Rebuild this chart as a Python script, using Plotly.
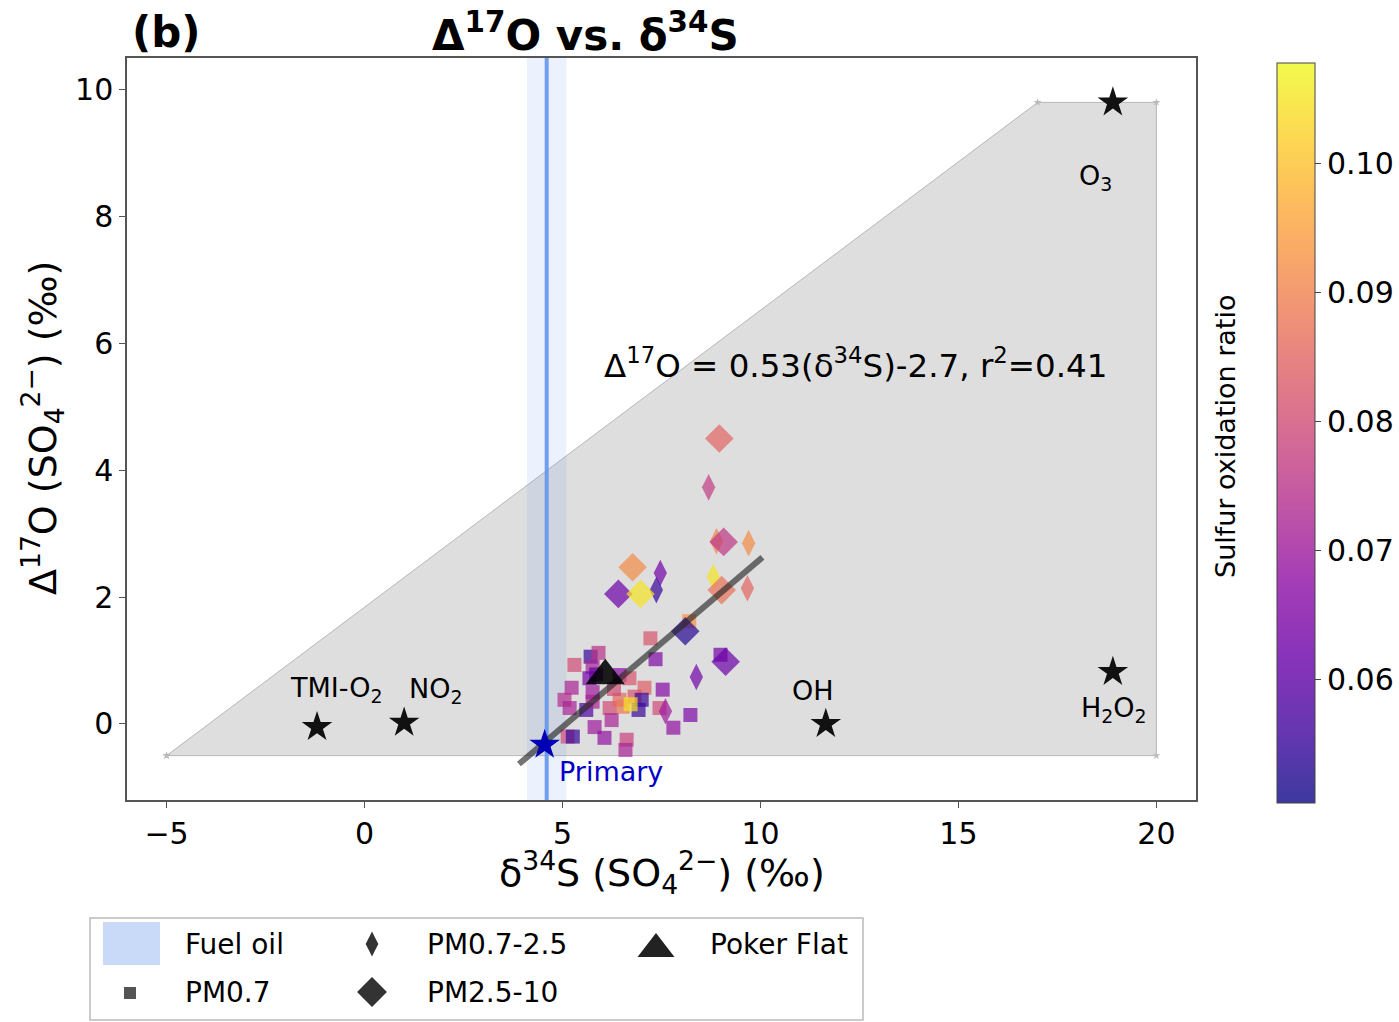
import plotly.graph_objects as go

W, H = 1399, 1022

# ---------------- data ----------------
pm07_d34s = [7.22, 7.35, 5.71, 5.91, 5.30, 5.76, 5.68, 6.44, 6.69, 7.07, 7.53, 5.23, 5.05, 5.18,
             5.76, 5.60, 5.76, 6.19, 6.44, 6.52, 6.82, 7.00, 6.92, 7.45, 8.23, 7.80, 5.81, 6.06,
             6.62, 6.59, 5.13, 5.26, 6.24, 8.99, 6.72, 5.85, 6.30, 8.20]
pm07_d17o = [1.35, 1.02, 1.06, 1.12, 0.93, 0.90, 0.72, 0.77, 0.72, 0.57, 0.54, 0.57, 0.38, 0.25,
             0.50, 0.22, 0.35, 0.25, 0.38, 0.27, 0.43, 0.38, 0.22, 0.25, 0.14, -0.06, -0.05, -0.22,
             -0.25, -0.41, -0.20, -0.20, 0.06, 1.09, 0.31, 0.78, 0.55, 1.62]
pm07_sor = [0.082, 0.065, 0.055, 0.075, 0.080, 0.072, 0.063, 0.066, 0.082, 0.084, 0.066, 0.072,
            0.074, 0.072, 0.070, 0.058, 0.072, 0.080, 0.086, 0.088, 0.082, 0.055, 0.055, 0.080,
            0.065, 0.068, 0.070, 0.068, 0.078, 0.072, 0.080, 0.055, 0.072, 0.063, 0.105, 0.060,
            0.080, 0.093]

pm0725_d34s = [8.69, 8.89, 9.70, 7.47, 7.37, 8.81, 9.67, 8.38, 7.60]
pm0725_d17o = [3.73, 2.88, 2.85, 2.38, 2.11, 2.32, 2.14, 0.74, 0.20]
pm0725_sor = [0.077, 0.090, 0.092, 0.063, 0.055, 0.105, 0.085, 0.063, 0.070]

pm2510_d34s = [8.96, 9.07, 6.77, 6.41, 6.97, 9.02, 8.10, 9.12]
pm2510_d17o = [4.50, 2.87, 2.47, 2.05, 2.05, 2.11, 1.46, 0.98]
pm2510_sor = [0.085, 0.076, 0.092, 0.062, 0.105, 0.087, 0.053, 0.062]

poker_d34s = [6.08]
poker_d17o = [0.76]

source_names = ["TMI-O<sub>2</sub>", "NO<sub>2</sub>", "OH", "O<sub>3</sub>", "H<sub>2</sub>O<sub>2</sub>"]
source_d34s = [-1.2, 1.0, 11.65, 18.9, 18.9]
source_d17o = [-0.05, 0.02, 0.0, 9.8, 0.82]

primary_d34s = [4.55]
primary_d17o = [-0.33]

mixing_d34s = [-5, 17, 20, 20, -5]
mixing_d17o = [-0.5, 9.8, 9.8, -0.5, -0.5]

fuel_oil_range = [4.1, 5.1]
fuel_oil_mean = 4.6

fit_slope, fit_intercept = 0.53, -2.7
fit_x = [3.9, 10.05]
fit_y = [fit_slope * v + fit_intercept for v in fit_x]

sor_min, sor_max = 0.0504, 0.1078
sor_ticks = [0.06, 0.07, 0.08, 0.09, 0.10]

x_range = [-6, 21]
y_range = [-1.2, 10.5]

# matplotlib plasma stops
plasma_hex = ["#0d0887", "#41049d", "#6a00a8", "#8f0da4", "#b12a90", "#cc4778",
              "#e16462", "#f2844b", "#fca636", "#fcce25", "#f0f921"]


def blend(hexc, a):
    r, g, b = int(hexc[1:3], 16), int(hexc[3:5], 16), int(hexc[5:7], 16)
    return "rgb(%d,%d,%d)" % tuple(round(a * c + (1 - a) * 255) for c in (r, g, b))


n = len(plasma_hex) - 1
plasma_scale = [[i / n, c] for i, c in enumerate(plasma_hex)]
plasma_bar_scale = [[i / n, blend(c, 0.8)] for i, c in enumerate(plasma_hex)]

# ---------------- figure ----------------
FONT = "DejaVu Sans"
fig = go.Figure()

# mixing polygon
fig.add_trace(go.Scatter(
    x=mixing_d34s, y=mixing_d17o, mode="lines+markers", fill="toself",
    fillcolor="#dedede", line=dict(color="rgba(170,170,170,0.8)", width=1),
    marker=dict(symbol="star", size=6, color="#bbbbbb"),
    hoverinfo="skip", showlegend=False))

# fuel oil band
fig.add_trace(go.Scatter(
    x=[fuel_oil_range[0], fuel_oil_range[1], fuel_oil_range[1], fuel_oil_range[0], fuel_oil_range[0]],
    y=[y_range[0], y_range[0], y_range[1], y_range[1], y_range[0]],
    mode="lines", fill="toself", fillcolor="rgba(100,149,237,0.12)",
    line=dict(width=0), hoverinfo="skip", showlegend=False))
fig.add_trace(go.Scatter(
    x=[fuel_oil_mean, fuel_oil_mean], y=y_range, mode="lines",
    line=dict(color="rgba(100,149,237,0.9)", width=4), hoverinfo="skip", showlegend=False))

common_marker = dict(colorscale=plasma_scale, cmin=sor_min, cmax=sor_max, opacity=0.7,
                     line=dict(width=0), showscale=False)

fig.add_trace(go.Scatter(
    x=pm07_d34s, y=pm07_d17o, mode="markers", name="PM0.7",
    marker=dict(symbol="square", size=14, color=pm07_sor, **common_marker),
    showlegend=False))
fig.add_trace(go.Scatter(
    x=pm0725_d34s, y=pm0725_d17o, mode="markers", name="PM0.7-2.5",
    marker=dict(symbol="diamond-tall", size=19, color=pm0725_sor, **common_marker),
    showlegend=False))
fig.add_trace(go.Scatter(
    x=pm2510_d34s, y=pm2510_d17o, mode="markers", name="PM2.5-10",
    marker=dict(symbol="diamond", size=22, color=pm2510_sor, **common_marker),
    showlegend=False))

# colorbar carrier (no visible points)
fig.add_trace(go.Scatter(
    x=[None, None], y=[None, None], mode="markers", hoverinfo="skip", showlegend=False,
    marker=dict(color=[sor_min, sor_max], colorscale=plasma_bar_scale, cmin=sor_min,
                cmax=sor_max, showscale=True,
                colorbar=dict(x=1277 / W, xanchor="left", y=1 - 63 / H, yanchor="top",
                              len=740 / H, lenmode="fraction", thickness=38,
                              outlinecolor="#444", outlinewidth=1, xpad=0, ypad=0,
                              tickvals=sor_ticks, ticktext=[f"{t:.2f}" for t in sor_ticks],
                              ticks="outside", ticklen=6, tickcolor="#444",
                              tickfont=dict(family=FONT, size=30, color="black")))))

# regression line
fig.add_trace(go.Scatter(
    x=fit_x, y=fit_y, mode="lines", line=dict(color="rgba(40,40,40,0.65)", width=6),
    hoverinfo="skip", showlegend=False))

# Poker Flat
fig.add_trace(go.Scatter(
    x=poker_d34s, y=poker_d17o, mode="markers", name="Poker Flat",
    marker=dict(symbol="triangle-up", size=34, color="rgba(0,0,0,0.88)"), showlegend=False))

# sources
fig.add_trace(go.Scatter(
    x=source_d34s, y=source_d17o, mode="markers",
    marker=dict(symbol="star", size=23, color="#111111"), hoverinfo="skip", showlegend=False))
fig.add_trace(go.Scatter(
    x=primary_d34s, y=primary_d17o, mode="markers",
    marker=dict(symbol="star", size=23, color="#0000b4"), hoverinfo="skip", showlegend=False))

annotations = []
label_shift = [(19, 38), (31, 32), (-13, 33), (-17, -75), (1, -38)]
for name, sx, sy, (dx, dy) in zip(source_names, source_d34s, source_d17o, label_shift):
    annotations.append(dict(x=sx, y=sy, xref="x", yref="y", text=name, showarrow=False,
                            xanchor="center", yanchor="middle",
                            xshift=dx, yshift=dy, font=dict(family=FONT, size=27, color="black")))
annotations.append(dict(x=primary_d34s[0], y=primary_d17o[0], xref="x", yref="y", text="Primary",
                        showarrow=False, xshift=66, yshift=-27, xanchor="center", yanchor="middle",
                        font=dict(family=FONT, size=27, color="#0000c8")))
annotations.append(dict(x=12.4, y=5.68, xref="x", yref="y", xanchor="center", yanchor="middle",
                        text="Δ<sup>17</sup>O = 0.53(δ<sup>34</sup>S)-2.7, r<sup>2</sup>=0.41",
                        showarrow=False, font=dict(family=FONT, size=32.5, color="black")))

# titles
annotations.append(dict(x=130 / W, y=1 - 33 / H, xref="paper", yref="paper", xanchor="left",
                        yanchor="middle", text="<b>(b)</b>", showarrow=False,
                        font=dict(family=FONT, size=42, color="black")))
annotations.append(dict(x=585 / W, y=1 - 33 / H, xref="paper", yref="paper",
                        xanchor="center", yanchor="middle",
                        text="<b>Δ<sup>17</sup>O vs. δ<sup>34</sup>S</b>", showarrow=False,
                        font=dict(family=FONT, size=42, color="black")))
annotations.append(dict(x=662 / W, y=1 - 872 / H, xref="paper", yref="paper",
                        xanchor="center", yanchor="middle",
                        text="δ<sup>34</sup>S (SO<sub>4</sub><sup>2−</sup>) (‰)", showarrow=False,
                        font=dict(family=FONT, size=38, color="black")))
annotations.append(dict(x=42 / W, y=1 - 428 / H, xref="paper", yref="paper", textangle=-90,
                        xanchor="center", yanchor="middle",
                        text="Δ<sup>17</sup>O (SO<sub>4</sub><sup>2−</sup>) (‰)", showarrow=False,
                        font=dict(family=FONT, size=38, color="black")))
annotations.append(dict(x=1225 / W, y=1 - 437 / H, xref="paper", yref="paper", textangle=-90,
                        xanchor="center", yanchor="middle",
                        text="Sulfur oxidation ratio", showarrow=False,
                        font=dict(family=FONT, size=27, color="black")))

# ---------------- manual legend (axes x2/y2 in pixel units) ----------------
legend_font = dict(family=FONT, size=28, color="black")
leg_items = [
    ("Fuel oil", 183, 944), ("PM0.7", 183, 992), ("PM0.7-2.5", 425, 944),
    ("PM2.5-10", 425, 992), ("Poker Flat", 708, 944)]
for txt, lx, ly in leg_items:
    annotations.append(dict(x=lx, y=ly, xref="x2", yref="y2", text=txt, xanchor="left",
                            yanchor="middle", showarrow=False, font=legend_font))

fig.add_trace(go.Scatter(x=[130], y=[993], xaxis="x2", yaxis="y2", mode="markers",
                         marker=dict(symbol="square", size=12, color="#555555"),
                         hoverinfo="skip", showlegend=False))
fig.add_trace(go.Scatter(x=[372], y=[944], xaxis="x2", yaxis="y2", mode="markers",
                         marker=dict(symbol="diamond-tall", size=18, color="#333333"),
                         hoverinfo="skip", showlegend=False))
fig.add_trace(go.Scatter(x=[372], y=[992], xaxis="x2", yaxis="y2", mode="markers",
                         marker=dict(symbol="diamond", size=23, color="#333333"),
                         hoverinfo="skip", showlegend=False))
fig.add_trace(go.Scatter(x=[656], y=[949], xaxis="x2", yaxis="y2", mode="markers",
                         marker=dict(symbol="triangle-up", size=32, color="#222222"),
                         hoverinfo="skip", showlegend=False))

shapes = [
    dict(type="rect", xref="x2", yref="y2", x0=103, x1=160, y0=922, y1=965,
         fillcolor="rgba(100,149,237,0.35)", line=dict(width=0), layer="below"),
    dict(type="rect", xref="paper", yref="paper", x0=90 / W, x1=863 / W,
         y0=1 - 1020 / H, y1=1 - 918 / H, line=dict(color="#bbbbbb", width=1.5),
         fillcolor="rgba(0,0,0,0)"),
]

axis_common = dict(showgrid=False, zeroline=False, showline=True, mirror=True,
                   linecolor="#555555", linewidth=1.5, ticks="outside", ticklen=6,
                   tickcolor="#555555", tickfont=dict(family=FONT, size=30, color="black"))

fig.update_layout(
    width=W, height=H,
    margin=dict(l=0, r=0, t=0, b=0, autoexpand=False),
    paper_bgcolor="white", plot_bgcolor="white",
    xaxis=dict(domain=[127 / W, 1196 / W], range=x_range,
               tickvals=[-5, 0, 5, 10, 15, 20], **axis_common),
    yaxis=dict(domain=[1 - 800 / H, 1 - 58 / H], range=y_range,
               tickvals=[0, 2, 4, 6, 8, 10], **axis_common),
    xaxis2=dict(domain=[90 / W, 863 / W], range=[90, 863], visible=False, fixedrange=True,
                anchor="y2"),
    yaxis2=dict(domain=[1 - 1020 / H, 1 - 918 / H], range=[1020, 918], visible=False,
                fixedrange=True, anchor="x2"),
    annotations=annotations,
    shapes=shapes,
    showlegend=False,
    font=dict(family=FONT, color="black"),
)

fig.write_html("out.html")
